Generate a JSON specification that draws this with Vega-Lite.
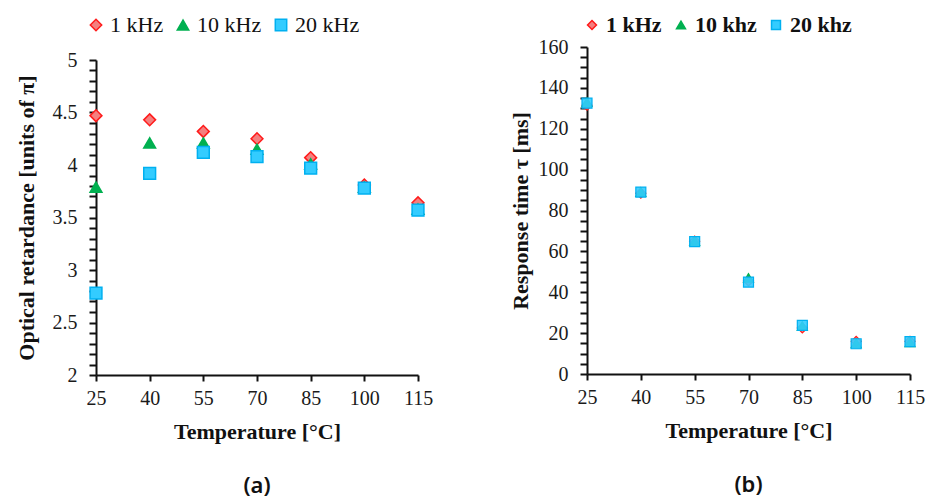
{
  "$schema": "https://vega.github.io/schema/vega-lite/v6.json",
  "background": "white",
  "padding": {"left": 15, "top": 14, "right": 5, "bottom": 4},
  "config": {
    "view": {"stroke": null},
    "font": "Liberation Serif",
    "axis": {
      "grid": false,
      "labelFont": "Liberation Serif",
      "labelFontSize": 20,
      "labelColor": "#1a1a1a",
      "labelFlush": false,
      "titleFont": "Liberation Serif",
      "titleFontSize": 22,
      "titleFontWeight": "bold",
      "titleColor": "#111111"
    },
    "legend": {
      "labelFont": "Liberation Serif",
      "labelColor": "#111111",
      "labelFontSize": 22,
      "symbolStrokeWidth": 1.5,
      "columnPadding": 8,
      "labelOffset": 3,
      "padding": 0
    },
    "title": {"font": "Noto Sans", "fontSize": 22, "fontWeight": 600, "color": "#111111"}
  },
  "datasets": {
    "retardance": [
      {"temperature": 25, "frequency": "1 kHz", "retardance": 4.47},
      {"temperature": 40, "frequency": "1 kHz", "retardance": 4.43},
      {"temperature": 55, "frequency": "1 kHz", "retardance": 4.32},
      {"temperature": 70, "frequency": "1 kHz", "retardance": 4.25},
      {"temperature": 85, "frequency": "1 kHz", "retardance": 4.07},
      {"temperature": 100, "frequency": "1 kHz", "retardance": 3.81},
      {"temperature": 115, "frequency": "1 kHz", "retardance": 3.64},
      {"temperature": 25, "frequency": "10 kHz", "retardance": 3.79},
      {"temperature": 40, "frequency": "10 kHz", "retardance": 4.21},
      {"temperature": 55, "frequency": "10 kHz", "retardance": 4.21},
      {"temperature": 70, "frequency": "10 kHz", "retardance": 4.15},
      {"temperature": 85, "frequency": "10 kHz", "retardance": 4.01},
      {"temperature": 100, "frequency": "10 kHz", "retardance": 3.79},
      {"temperature": 115, "frequency": "10 kHz", "retardance": 3.58},
      {"temperature": 25, "frequency": "20 kHz", "retardance": 2.78},
      {"temperature": 40, "frequency": "20 kHz", "retardance": 3.92},
      {"temperature": 55, "frequency": "20 kHz", "retardance": 4.12},
      {"temperature": 70, "frequency": "20 kHz", "retardance": 4.08},
      {"temperature": 85, "frequency": "20 kHz", "retardance": 3.97},
      {"temperature": 100, "frequency": "20 kHz", "retardance": 3.78},
      {"temperature": 115, "frequency": "20 kHz", "retardance": 3.57}
    ],
    "response": [
      {"temperature": 25, "frequency": "1 kHz", "tau": 131.5},
      {"temperature": 40, "frequency": "1 kHz", "tau": 88.5},
      {"temperature": 55, "frequency": "1 kHz", "tau": 65},
      {"temperature": 70, "frequency": "1 kHz", "tau": 45.5},
      {"temperature": 85, "frequency": "1 kHz", "tau": 22.5},
      {"temperature": 100, "frequency": "1 kHz", "tau": 16},
      {"temperature": 115, "frequency": "1 kHz", "tau": 16},
      {"temperature": 25, "frequency": "10 khz", "tau": 133},
      {"temperature": 40, "frequency": "10 khz", "tau": 89},
      {"temperature": 55, "frequency": "10 khz", "tau": 65},
      {"temperature": 70, "frequency": "10 khz", "tau": 47},
      {"temperature": 85, "frequency": "10 khz", "tau": 23.5},
      {"temperature": 100, "frequency": "10 khz", "tau": 15},
      {"temperature": 115, "frequency": "10 khz", "tau": 15.5},
      {"temperature": 25, "frequency": "20 khz", "tau": 132.5},
      {"temperature": 40, "frequency": "20 khz", "tau": 89},
      {"temperature": 55, "frequency": "20 khz", "tau": 64.8},
      {"temperature": 70, "frequency": "20 khz", "tau": 45},
      {"temperature": 85, "frequency": "20 khz", "tau": 23.8},
      {"temperature": 100, "frequency": "20 khz", "tau": 14.8},
      {"temperature": 115, "frequency": "20 khz", "tau": 15.8}
    ]
  },
  "spacing": 76,
  "resolve": {
    "scale": {"fill": "independent", "stroke": "independent", "shape": "independent"},
    "legend": {"fill": "independent", "stroke": "independent", "shape": "independent"}
  },
  "hconcat": [
    {
      "width": 322,
      "height": 328,
      "title": {"text": "(a)", "orient": "bottom", "offset": 34},
      "data": {"name": "retardance"},
      "mark": {"type": "point", "size": 140, "strokeWidth": 1.5, "opacity": 1, "fillOpacity": 1},
      "encoding": {
        "x": {
          "field": "temperature",
          "type": "quantitative",
          "scale": {"domain": [25, 115], "nice": false, "zero": false},
          "axis": {
            "title": "Temperature [°C]",
            "values": [25, 40, 55, 70, 85, 100, 115],
            "domain": true,
            "domainColor": "#111111",
            "domainWidth": 2,
            "ticks": true,
            "tickColor": "#111111",
            "tickWidth": 2,
            "tickSize": 6,
            "labelPadding": 7,
            "titlePadding": 13
          }
        },
        "y": {
          "field": "retardance",
          "type": "quantitative",
          "scale": {"domain": [2, 5], "nice": false, "zero": false, "range": [328, 13]},
          "axis": {
            "title": "Optical retardance [units of π]",
            "values": [2, 2.1, 2.2, 2.3, 2.4, 2.5, 2.6, 2.7, 2.8, 2.9, 3, 3.1, 3.2, 3.3, 3.4, 3.5, 3.6, 3.7, 3.8, 3.9, 4, 4.1, 4.2, 4.3, 4.4, 4.5, 4.6, 4.7, 4.8, 4.9, 5],
            "labelExpr": "round(datum.value * 10) % 5 == 0 ? '' + round(datum.value * 10) / 10 : ''",
            "domain": true,
            "domainColor": "#111111",
            "domainWidth": 2,
            "ticks": true,
            "tickColor": "#111111",
            "tickWidth": 2,
            "tickSize": 7,
            "labelPadding": 12,
            "titlePadding": 14
          }
        },
        "fill": {
          "field": "frequency",
          "type": "nominal",
          "scale": {"domain": ["1 kHz", "10 kHz", "20 kHz"], "range": ["#f47f7f", "#00b050", "#33ccff"]},
          "legend": {"orient": "none", "legendX": -11, "legendY": -33, "direction": "horizontal", "title": null, "symbolSize": 130}
        },
        "stroke": {
          "field": "frequency",
          "type": "nominal",
          "scale": {"domain": ["1 kHz", "10 kHz", "20 kHz"], "range": ["#ff1a1a", "#00b050", "#00b0f0"]},
          "legend": {"orient": "none", "legendX": -11, "legendY": -33, "direction": "horizontal", "title": null, "symbolSize": 130}
        },
        "shape": {
          "field": "frequency",
          "type": "nominal",
          "scale": {"domain": ["1 kHz", "10 kHz", "20 kHz"], "range": ["diamond", "triangle-up", "square"]},
          "legend": {"orient": "none", "legendX": -11, "legendY": -33, "direction": "horizontal", "title": null, "symbolSize": 130}
        }
      }
    },
    {
      "width": 323,
      "height": 327,
      "title": {"text": "(b)", "orient": "bottom", "offset": 34},
      "data": {"name": "response"},
      "mark": {"type": "point", "size": 100, "strokeWidth": 1.2, "opacity": 1, "fillOpacity": 0.9},
      "encoding": {
        "x": {
          "field": "temperature",
          "type": "quantitative",
          "scale": {"domain": [25, 115], "nice": false, "zero": false},
          "axis": {
            "title": "Temperature [°C]",
            "values": [25, 40, 55, 70, 85, 100, 115],
            "domain": true,
            "domainColor": "#111111",
            "domainWidth": 2,
            "ticks": true,
            "tickColor": "#111111",
            "tickWidth": 2,
            "tickSize": 6,
            "labelPadding": 7,
            "titlePadding": 13
          }
        },
        "y": {
          "field": "tau",
          "type": "quantitative",
          "scale": {"domain": [0, 160], "nice": false},
          "axis": {
            "title": "Response time τ [ms]",
            "values": [0, 5, 10, 15, 20, 25, 30, 35, 40, 45, 50, 55, 60, 65, 70, 75, 80, 85, 90, 95, 100, 105, 110, 115, 120, 125, 130, 135, 140, 145, 150, 155, 160],
            "labelExpr": "datum.value % 20 == 0 ? datum.label : ''",
            "domain": true,
            "domainColor": "#111111",
            "domainWidth": 2,
            "ticks": true,
            "tickColor": "#111111",
            "tickWidth": 2,
            "tickSize": 7,
            "labelPadding": 12,
            "titlePadding": 6
          }
        },
        "fill": {
          "field": "frequency",
          "type": "nominal",
          "scale": {"domain": ["1 kHz", "10 khz", "20 khz"], "range": ["#f47f7f", "#00b050", "#33ccff"]},
          "legend": {"orient": "none", "legendX": -6, "legendY": -33, "direction": "horizontal", "title": null, "symbolSize": 80, "labelFontWeight": "bold"}
        },
        "stroke": {
          "field": "frequency",
          "type": "nominal",
          "scale": {"domain": ["1 kHz", "10 khz", "20 khz"], "range": ["#ff1a1a", "#00b050", "#00b0f0"]},
          "legend": {"orient": "none", "legendX": -6, "legendY": -33, "direction": "horizontal", "title": null, "symbolSize": 80, "labelFontWeight": "bold"}
        },
        "shape": {
          "field": "frequency",
          "type": "nominal",
          "scale": {"domain": ["1 kHz", "10 khz", "20 khz"], "range": ["diamond", "triangle-up", "square"]},
          "legend": {"orient": "none", "legendX": -6, "legendY": -33, "direction": "horizontal", "title": null, "symbolSize": 80, "labelFontWeight": "bold"}
        }
      }
    }
  ]
}
